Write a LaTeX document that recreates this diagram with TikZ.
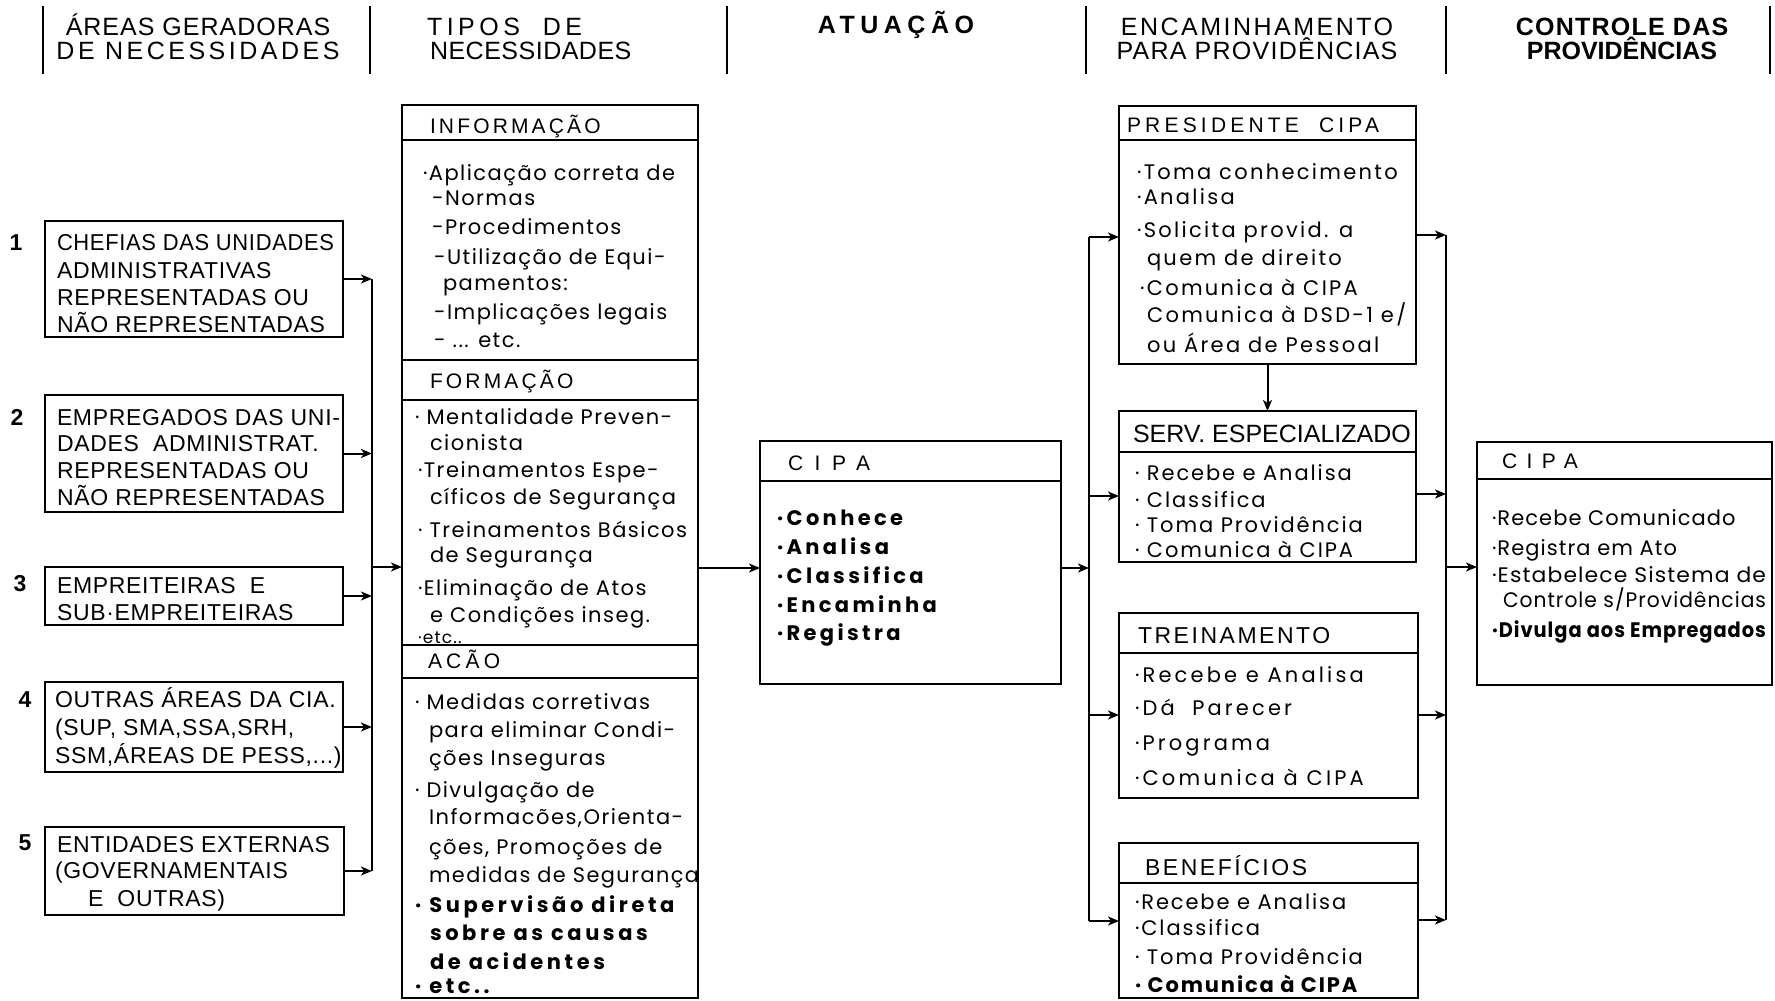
\documentclass[tikz,border=0pt]{standalone}
\usepackage{fontspec}
\usepackage{graphicx}
\setmainfont{Liberation Sans}
\newfontfamily\bodyf{Poppins}
\usetikzlibrary{arrows.meta}
\newcommand\FBx[1]{\bodyf\fontsize{21}{21}\selectfont\addfontfeature{LetterSpace=#1}}
\newcommand\FL{\fontsize{23}{23}\selectfont\addfontfeature{LetterSpace=3}}
\newcommand\FH[2]{\fontsize{#1}{#1}\selectfont\addfontfeature{LetterSpace=#2}}
\newcommand\Lx[4]{\node[tx] (#1) at (#2,#3) {#4};}
\newcommand\Wd[2]{\resizebox{#1}{\height}{#2}}
\begin{document}
\begin{tikzpicture}[x=1pt,y=-1pt,
  tx/.style={anchor=base west,inner sep=0pt,outer sep=0pt},
  hc/.style={anchor=base,inner sep=0pt,outer sep=0pt},
  bx/.style={draw,line width=2.6pt,inner sep=0pt,outer sep=0pt,anchor=north west},
  bl/.style={line width=2.4pt},
  sepl/.style={line width=2.8pt},
  conn/.style={line width=2pt},
  arr/.style={conn,-{Stealth[length=11pt,width=9pt,inset=3pt]}}]
\useasboundingbox (0,0) rectangle (1775,1001);
\fill[white] (0,0) rectangle (1775,1001);

% ---- header separators
\foreach \xx in {43,370,727,1086,1446,1770}{\draw[sepl] (\xx,6) -- (\xx,74);}

% ---- header texts
\node[hc,font=\FH{25}{4}] (h1a) at (198,35) {ÁREAS GERADORAS};
\node[hc,font=\FH{25}{14}] (h1b) at (198,59) {DE NECESSIDADES};
\node[tx,font=\FH{25}{18}] (h2a) at (427,35) {TIPOS\ \ DE};
\node[tx,font=\FH{25}{2}] (h2b) at (430,59) {NECESSIDADES};
\node[hc,font=\bfseries\FH{25}{22}] (h3) at (896,34) {ATUAÇÃO};
\node[hc,font=\FH{25}{10}] (h4a) at (1257,35) {ENCAMINHAMENTO};
\node[hc,font=\FH{25}{5}] (h4b) at (1257,59) {PARA PROVIDÊNCIAS};
\node[hc,font=\bfseries\FH{25}{5}] (h5a) at (1622,35) {CONTROLE DAS};
\node[hc,font=\bfseries\FH{25}{0}] (h5b) at (1622,59) {PROVIDÊNCIAS};

% ---- boxes
\node[bx,minimum width=298pt,minimum height=116pt] (b1) at (45,221) {};
\node[bx,minimum width=298pt,minimum height=117pt] (b2) at (45,395) {};
\node[bx,minimum width=298pt,minimum height=58pt] (b3) at (45,567) {};
\node[bx,minimum width=298pt,minimum height=90pt] (b4) at (45,682) {};
\node[bx,minimum width=299pt,minimum height=88pt] (b5) at (45,827) {};
\node[bx,minimum width=296pt,minimum height=893pt] (tipos) at (402,105) {};
\node[bx,minimum width=301pt,minimum height=243pt] (cipa) at (760,441) {};
\node[bx,minimum width=297pt,minimum height=258pt] (pres) at (1119,106) {};
\node[bx,minimum width=297pt,minimum height=151pt] (serv) at (1119,411) {};
\node[bx,minimum width=299pt,minimum height=185pt] (trein) at (1119,613) {};
\node[bx,minimum width=299pt,minimum height=155pt] (benef) at (1119,843) {};
\node[bx,minimum width=295pt,minimum height=243pt] (cipb) at (1477,442) {};

% inner separators
\foreach \yy in {140,360,400,645,678}{\draw[bl] (tipos.west |- 0,\yy) -- (tipos.east |- 0,\yy);}
\draw[bl] (cipa.west |- 0,481) -- (cipa.east |- 0,481);
\draw[bl] (pres.west |- 0,140) -- (pres.east |- 0,140);
\draw[bl] (serv.west |- 0,452) -- (serv.east |- 0,452);
\draw[bl] (trein.west |- 0,653) -- (trein.east |- 0,653);
\draw[bl] (benef.west |- 0,883) -- (benef.east |- 0,883);
\draw[bl] (cipb.west |- 0,479) -- (cipb.east |- 0,479);

% ---- connectors
\coordinate (bus1) at (372,0);
\coordinate (bus2) at (1089,0);
\coordinate (bus3) at (1446,0);
\coordinate (j1) at (372,567);
\coordinate (j2) at (0,568);
\foreach \b in {b1,b2,b3,b4,b5}{\draw[arr] (\b.east) -- (\b.east -| bus1);}
\draw[conn] (b1.east -| bus1) -- (b5.east -| bus1);
\draw[arr] (j1) -- (j1 -| tipos.west);
\draw[arr] (j2 -| tipos.east) -- (j2 -| cipa.west);
\draw[arr] (j2 -| cipa.east) -- (j2 -| bus2);
\draw[conn] (bus2 |- 0,237) -- (bus2 |- 0,921);
\draw[arr] (bus2 |- 0,237) -- (pres.west |- 0,237);
\draw[arr] (bus2 |- 0,496) -- (serv.west |- 0,496);
\draw[arr] (bus2 |- 0,715) -- (trein.west |- 0,715);
\draw[arr] (bus2 |- 0,921) -- (benef.west |- 0,921);
\draw[arr] (pres.south) -- (serv.north);
\draw[arr] (pres.east |- 0,235) -- (bus3 |- 0,235);
\draw[arr] (serv.east |- 0,494) -- (bus3 |- 0,494);
\draw[arr] (trein.east |- 0,715) -- (bus3 |- 0,715);
\draw[arr] (benef.east |- 0,920) -- (bus3 |- 0,920);
\draw[conn] (bus3 |- 0,235) -- (bus3 |- 0,920);
\draw[arr] (bus3 |- 0,567) -- (cipb.west |- 0,567);

% ---- numbers
\node[hc,font=\bfseries\fontsize{23}{23}\selectfont] (n1) at (16,250) {1};
\node[hc,font=\bfseries\fontsize{23}{23}\selectfont] (n2) at (17,425) {2};
\node[hc,font=\bfseries\fontsize{23}{23}\selectfont] (n3) at (20,591) {3};
\node[hc,font=\bfseries\fontsize{23}{23}\selectfont] (n4) at (25,707) {4};
\node[hc,font=\bfseries\fontsize{23}{23}\selectfont] (n5) at (25,850) {5};

% ---- left box texts
\begin{scope}[every node/.append style={font=\FL}]
\Lx{l11}{57}{250}{\Wd{277pt}{CHEFIAS DAS UNIDADES}}
\Lx{l12}{57}{278}{ADMINISTRATIVAS}
\Lx{l13}{57}{305}{REPRESENTADAS OU}
\Lx{l14}{57}{332}{NÃO REPRESENTADAS}
\Lx{l21}{57}{425}{\Wd{283pt}{EMPREGADOS DAS UNI-}}
\Lx{l22}{57}{451}{DADES\ \ ADMINISTRAT.}
\Lx{l23}{57}{478}{REPRESENTADAS OU}
\Lx{l24}{57}{505}{NÃO REPRESENTADAS}
\Lx{l31}{57}{593}{EMPREITEIRAS\ \ E}
\Lx{l32}{57}{620}{SUB·EMPREITEIRAS}
\Lx{l41}{55}{707}{OUTRAS ÁREAS DA CIA.}
\Lx{l42}{55}{735}{(SUP, SMA,SSA,SRH,}
\Lx{l43}{55}{763}{SSM,ÁREAS DE PESS,...)}
\Lx{l51}{57}{852}{ENTIDADES EXTERNAS}
\Lx{l52}{55}{878}{(GOVERNAMENTAIS}
\Lx{l53}{88}{906}{E\ \ OUTRAS)}
\end{scope}

% ---- section headers
\node[tx,font=\FH{21}{15}] (hinf) at (430,133) {INFORMAÇÃO};
\node[tx,font=\FH{21}{15}] (hfor) at (430,388) {FORMAÇÃO};
\node[tx,font=\FH{21}{20}] (hac) at (428,668) {ACÃO};
\node[tx,font=\FH{21}{55}] (hc1) at (788,470) {CIPA};
\node[tx,font=\FH{21}{20}] (hp) at (1127,132) {PRESIDENTE\ \ CIPA};
\node[tx,font=\FH{25}{0}] (hs) at (1133,442) {SERV. ESPECIALIZADO};
\node[tx,font=\FH{23}{11}] (ht) at (1138,643) {TREINAMENTO};
\node[tx,font=\FH{23}{11}] (hb) at (1145,875) {BENEFÍCIOS};
\node[tx,font=\FH{21}{45}] (hr) at (1502,468) {CIPA};

% ---- body texts: Tipos
\begin{scope}[every node/.append style={font=\FBx{7}}]
\Lx{i1}{423}{180}{·Aplicação correta de}
\Lx{i2}{432}{205}{-Normas}
\Lx{i3}{432}{234}{-Procedimentos}
\Lx{i4}{434}{264}{-Utilização de Equi-}
\Lx{i5}{443}{290}{pamentos:}
\Lx{i6}{434}{319}{-Implicações legais}
\Lx{i7}{434}{347}{- ... etc.}
\Lx{f1}{415}{424}{· Mentalidade Preven-}
\Lx{f2}{430}{450}{cionista}
\Lx{f3}{418}{477}{·Treinamentos Espe-}
\Lx{f4}{430}{504}{cíficos de Segurança}
\Lx{f5}{418}{537}{· Treinamentos Básicos}
\Lx{f6}{430}{562}{de Segurança}
\Lx{f7}{418}{595}{·Eliminação de Atos}
\Lx{f8}{430}{622}{e Condições inseg.}
\Lx{f9}{418}{643}{{\fontsize{17}{17}\selectfont ·etc..}}
\Lx{a1}{415}{709}{· Medidas corretivas}
\Lx{a2}{429}{737}{para eliminar Condi-}
\Lx{a3}{429}{765}{ções Inseguras}
\Lx{a4}{415}{797}{· Divulgação de}
\Lx{a5}{429}{824}{Informacões,Orienta-}
\Lx{a6}{429}{854}{ções, Promoções de}
\Lx{a7}{429}{882}{\Wd{270pt}{medidas de Segurança}}
\end{scope}
\begin{scope}[every node/.append style={font=\FBx{17}}]
\Lx{a8}{415}{912}{\bfseries · Supervisão direta}
\Lx{a9}{430}{940}{\bfseries sobre as causas}
\Lx{a10}{430}{969}{\bfseries de acidentes}
\Lx{a11}{415}{993}{\bfseries · etc..}
\end{scope}
% ---- Presidente
\begin{scope}[every node/.append style={font=\FBx{11}}]
\Lx{p1}{1137}{179}{·Toma conhecimento}
\Lx{p2}{1137}{204}{·Analisa}
\Lx{p3}{1137}{237}{·Solicita provid. a}
\Lx{p4}{1147}{265}{quem de direito}
\Lx{p5}{1140}{295}{·Comunica à CIPA}
\Lx{p6}{1147}{322}{Comunica à DSD-1 e/}
\Lx{p7}{1147}{352}{ou Área de Pessoal}
\end{scope}
% ---- Serv, Treinamento, Beneficios
\begin{scope}[every node/.append style={font=\FBx{9}}]
\Lx{s1}{1135}{480}{· Recebe e Analisa}
\Lx{s2}{1135}{507}{· Classifica}
\Lx{s3}{1135}{532}{· Toma Providência}
\Lx{s4}{1135}{557}{· Comunica à CIPA}
\Lx{e1}{1135}{909}{·Recebe e Analisa}
\Lx{e2}{1135}{935}{·Classifica}
\Lx{e3}{1135}{964}{· Toma Providência}
\Lx{e4}{1135}{992}{\bfseries · Comunica à CIPA}
\end{scope}
\begin{scope}[every node/.append style={font=\FBx{15}}]
\Lx{t1}{1135}{682}{·Recebe e Analisa}
\Lx{t2}{1135}{715}{·Dá\ \ Parecer}
\Lx{t3}{1135}{750}{·Programa}
\Lx{t4}{1135}{785}{·Comunica à CIPA}
\end{scope}
% ---- CIPA (right)
\begin{scope}[every node/.append style={font=\FBx{5}}]
\Lx{r1}{1492}{525}{·Recebe Comunicado}
\Lx{r2}{1492}{555}{·Registra em Ato}
\Lx{r3}{1492}{582}{\Wd{274pt}{·Estabelece Sistema de}}
\Lx{r4}{1503}{607}{\Wd{263pt}{Controle s/Providências}}
\Lx{r5}{1492}{637}{\Wd{274pt}{\bfseries ·Divulga aos Empregados}}
\end{scope}
% ---- CIPA (middle)
\begin{scope}[every node/.append style={font=\FBx{16}}]
\Lx{c1}{777}{525}{\bfseries ·Conhece}
\Lx{c2}{777}{554}{\bfseries ·Analisa}
\Lx{c3}{777}{583}{\bfseries ·Classifica}
\Lx{c4}{777}{612}{\bfseries ·Encaminha}
\Lx{c5}{777}{640}{\bfseries ·Registra}
\end{scope}
\end{tikzpicture}
\end{document}
